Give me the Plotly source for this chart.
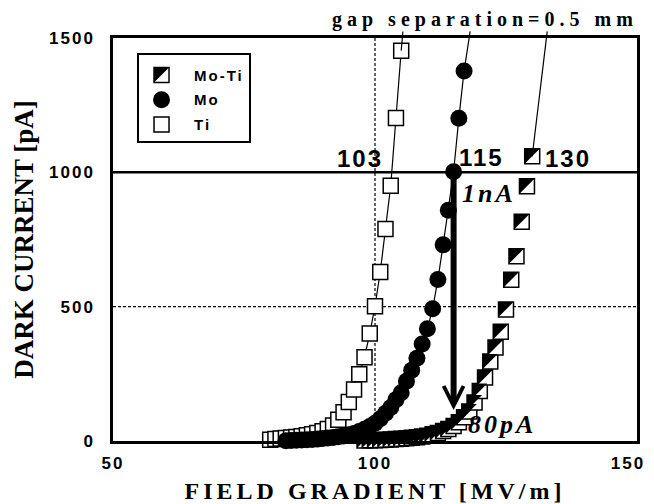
import plotly.graph_objects as go

# ---------------- data ----------------
ti_x = [80, 81, 82, 83, 84, 85, 86, 87, 88, 89, 90, 91, 92, 93, 94, 95, 96,
        97, 98, 99, 100, 101, 102, 103, 104, 105]
ti_y = [5, 7, 9, 11, 13, 15, 18, 21, 25, 30, 36, 45, 58, 79, 107, 145, 192,
        248, 312, 400, 502, 629, 789, 950, 1202, 1453]

mo_x = [83, 84, 85, 86, 87, 88, 89, 90, 91, 92, 93, 94, 95, 96, 97, 98, 99,
        100, 101, 102, 103, 104, 105, 106, 107, 108, 109, 110, 111, 112, 113,
        114, 115, 116, 117]
mo_y = [1, 2, 3, 4, 5, 6, 7, 9, 11, 13, 16, 19, 23, 28, 35, 44, 54,
        66, 83, 103, 125, 154, 180, 222, 263, 308, 361, 418, 492, 601, 730,
        859, 1002, 1201, 1377]

moti_x = [98, 99, 100, 101, 102, 103, 104, 105, 106, 107, 108, 109, 110, 111,
          112, 113, 114, 115, 116, 117, 118, 119, 120, 121, 122, 123, 124, 125,
          126, 127, 128, 129, 130]
moti_y = [2, 3, 3, 4, 5, 6, 7, 8, 10, 12, 14, 17, 20, 25,
          30, 37, 45, 56, 70, 88, 110, 143, 186, 236, 296, 348, 407, 489,
          600, 688, 816, 948, 1060]

series_names = ["Mo-Ti", "Mo", "Ti"]
x_ticks = [50, 100, 150]
y_ticks = [0, 500, 1000, 1500]
onset_labels = ["103", "115", "130"]       # field gradient at 1 nA
onset_fields = [103, 115, 130]
level_1nA = 1000
level_80pA = 80

# ---------------- layout constants ----------------
W, H = 654, 504
ML, MR, MT, MB = 113, 17, 38, 63
X_RANGE = [50, 150]
Y_RANGE = [0, 1500]
px_x = (W - ML - MR) / (X_RANGE[1] - X_RANGE[0])
px_y = (H - MT - MB) / (Y_RANGE[1] - Y_RANGE[0])

SQ = 15          # square marker side
CIR = 17         # circle marker size
TRI = SQ / 0.9   # right-triangle symbol matching the square
SHIFT = SQ / 6   # px shift to put the triangle into the square's corner

SANS = "Liberation Sans"
SERIF = "Liberation Serif"


def spaced(t, px):
    return '<span style="letter-spacing:%gpx">%s</span>' % (px, t)


fig = go.Figure()

# Ti : open squares with line
fig.add_trace(go.Scatter(
    x=ti_x, y=ti_y, mode="lines+markers", name=series_names[2],
    line=dict(color="black", width=1.2),
    marker=dict(symbol="square", size=SQ, color="white",
                line=dict(color="black", width=1.5)),
    cliponaxis=False, showlegend=False))

# Mo : filled circles with line
fig.add_trace(go.Scatter(
    x=mo_x, y=mo_y, mode="lines+markers", name=series_names[1],
    line=dict(color="black", width=1.2),
    marker=dict(symbol="circle", size=CIR, color="black",
                line=dict(color="black", width=0)),
    cliponaxis=False, showlegend=False))

# Mo-Ti : half filled squares (square + triangle)
fig.add_trace(go.Scatter(
    x=moti_x, y=moti_y, mode="markers", name=series_names[0],
    marker=dict(symbol="square", size=SQ, color="white",
                line=dict(color="black", width=1.5)),
    cliponaxis=False, showlegend=False))
fig.add_trace(go.Scatter(
    x=[v - SHIFT / px_x for v in moti_x],
    y=[v + SHIFT / px_y for v in moti_y],
    mode="markers", name=series_names[0] + " ",
    marker=dict(symbol="triangle-nw", size=TRI, color="black",
                line=dict(width=0)),
    cliponaxis=False, showlegend=False, hoverinfo="skip"))

# ---------------- hand-made legend (own small axes) ----------------
LEG_L, LEG_R, LEG_T, LEG_B = 138, 250, 54, 142
leg_dom_x = [(LEG_L - ML) / (W - ML - MR), (LEG_R - ML) / (W - ML - MR)]
leg_dom_y = [(H - MB - LEG_B) / (H - MT - MB), (H - MB - LEG_T) / (H - MT - MB)]
leg_px_x = LEG_R - LEG_L
leg_px_y = LEG_B - LEG_T
leg_key_x = 0.21
leg_rows = [0.76, 0.48, 0.2]
leg_text_x = 0.48

fig.add_trace(go.Scatter(
    x=[leg_key_x], y=[leg_rows[0]], xaxis="x2", yaxis="y2", mode="markers",
    marker=dict(symbol="square", size=SQ, color="white",
                line=dict(color="black", width=1.5)),
    showlegend=False, hoverinfo="skip"))
fig.add_trace(go.Scatter(
    x=[leg_key_x - SHIFT / leg_px_x], y=[leg_rows[0] + SHIFT / leg_px_y],
    xaxis="x2", yaxis="y2", mode="markers",
    marker=dict(symbol="triangle-nw", size=TRI, color="black", line=dict(width=0)),
    showlegend=False, hoverinfo="skip"))
fig.add_trace(go.Scatter(
    x=[leg_key_x], y=[leg_rows[1]], xaxis="x2", yaxis="y2", mode="markers",
    marker=dict(symbol="circle", size=CIR, color="black"),
    showlegend=False, hoverinfo="skip"))
fig.add_trace(go.Scatter(
    x=[leg_key_x], y=[leg_rows[2]], xaxis="x2", yaxis="y2", mode="markers",
    marker=dict(symbol="square", size=SQ, color="white",
                line=dict(color="black", width=1.5)),
    showlegend=False, hoverinfo="skip"))

annotations = []
for name, ry in zip(series_names, leg_rows):
    annotations.append(dict(
        text=spaced(name, 2), x=leg_text_x, y=ry, xref="x2", yref="y2",
        xanchor="left", yanchor="middle", showarrow=False,
        font=dict(family=SANS, size=15, color="black", weight="bold")))

DOTTED = dict(color="black", width=1.2, dash="3px,2px")
shapes = [
    dict(type="rect", xref="x2 domain", yref="y2 domain", x0=0, x1=1, y0=0, y1=1,
         line=dict(color="black", width=2), fillcolor="rgba(0,0,0,0)", layer="above"),
    # reference lines
    dict(type="line", xref="x", yref="y", x0=100, x1=100, y0=Y_RANGE[0], y1=Y_RANGE[1],
         line=DOTTED, layer="below"),
    dict(type="line", xref="x", yref="y", x0=X_RANGE[0], x1=X_RANGE[1], y0=500, y1=500,
         line=DOTTED, layer="below"),
    dict(type="line", xref="x", yref="y", x0=X_RANGE[0], x1=X_RANGE[1],
         y0=level_1nA, y1=level_1nA, line=dict(color="black", width=2.5), layer="below"),
]

# onset labels
label_pos = [(97.2, 1053), (120.3, 1055), (136.9, 1053)]
for t, (lx, ly) in zip(onset_labels, label_pos):
    annotations.append(dict(
        text=spaced(t, 2), x=lx, y=ly, xref="x", yref="y", showarrow=False,
        xanchor="center", yanchor="middle",
        font=dict(family=SANS, size=24, color="black", weight="bold")))

# 1nA / 80pA
annotations.append(dict(
    text=spaced("1nA", 3), x=121.8, y=922, xref="x", yref="y", showarrow=False,
    font=dict(family=SERIF, size=26, color="black", weight="bold", style="italic")))
annotations.append(dict(
    text=spaced("80pA", 3), x=124.2, y=62, xref="x", yref="y", showarrow=False,
    font=dict(family=SERIF, size=26, color="black", weight="bold", style="italic")))

# big arrow from 1 nA on Mo to the Mo-Ti curve
annotations.append(dict(
    text="", x=onset_fields[1], y=115, ax=onset_fields[1], ay=level_1nA,
    xref="x", yref="y", axref="x", ayref="y", showarrow=True,
    arrowhead=5, arrowsize=0.65, arrowwidth=6, arrowcolor="black"))

# title text and its leader lines
annotations.append(dict(
    text=spaced("gap separation=0.5 mm", 5), x=(485 - ML) / (W - ML - MR),
    y=1 + (MT - 19) / (H - MT - MB), xref="paper", yref="paper",
    showarrow=False, xanchor="center", yanchor="middle",
    font=dict(family=SERIF, size=20, color="black", weight="bold")))
leader_targets = [(ti_x[-1], ti_y[-1], 105.35), (mo_x[-1], mo_y[-1], 118.2),
                  (moti_x[-1], moti_y[-1], 132.9)]
for tx, ty, sx in leader_targets:
    annotations.append(dict(
        text="", x=tx, y=ty, ax=sx, ay=1530, xref="x", yref="y",
        axref="x", ayref="y", showarrow=True, arrowhead=0,
        arrowwidth=1.2, arrowcolor="black", standoff=0, startstandoff=0))

tick_font = dict(family=SANS, size=17, color="black", weight="bold")
fig.update_layout(
    width=W, height=H,
    margin=dict(l=ML, r=MR, t=MT, b=MB, pad=0, autoexpand=False),
    paper_bgcolor="white", plot_bgcolor="white",
    showlegend=False,
    xaxis=dict(range=X_RANGE, tickvals=x_ticks[:2],
               ticktext=[spaced(str(v), 2) for v in x_ticks[:2]],
               showline=True, mirror=True, linecolor="black", linewidth=2.5,
               showgrid=False, zeroline=False, ticks="", ticklabelstandoff=5,
               tickfont=tick_font, automargin=False,
               title=dict(text=spaced("FIELD GRADIENT [MV/m]", 4), standoff=16,
                          font=dict(family=SERIF, size=24, color="black", weight="bold"))),
    # last x tick label, nudged left so that it stays inside the page
    xaxis3=dict(range=X_RANGE, overlaying="x", anchor="y", side="bottom",
                tickvals=x_ticks[2:], ticktext=[spaced(str(v), 2) for v in x_ticks[2:]],
                showline=True, linecolor="black", linewidth=2.5,
                showgrid=False, zeroline=False, ticks="", automargin=False,
                ticklabelstandoff=5, ticklabelshift=-9, tickfont=tick_font),
    yaxis=dict(range=Y_RANGE, tickvals=y_ticks,
               ticktext=[spaced(str(v), 2) for v in y_ticks],
               showline=True, mirror=True, linecolor="black", linewidth=2.5,
               showgrid=False, zeroline=False, ticks="", ticklabelstandoff=12,
               tickfont=tick_font, automargin=False,
               title=dict(text="DARK CURRENT [pA]", standoff=8,
                          font=dict(family=SERIF, size=27, color="black", weight="bold"))),
    xaxis2=dict(domain=leg_dom_x, range=[0, 1], anchor="y2", visible=False,
                fixedrange=True, automargin=False),
    yaxis2=dict(domain=leg_dom_y, range=[0, 1], anchor="x2", visible=False,
                fixedrange=True, automargin=False),
    shapes=shapes, annotations=annotations,
)
# an invisible trace so that the helper axis for the last tick label is drawn
fig.add_trace(go.Scatter(x=[X_RANGE[0]], y=[Y_RANGE[0]], xaxis="x3", yaxis="y",
                         mode="markers", marker=dict(opacity=0), showlegend=False,
                         hoverinfo="skip"))

fig.write_html("out.html")
